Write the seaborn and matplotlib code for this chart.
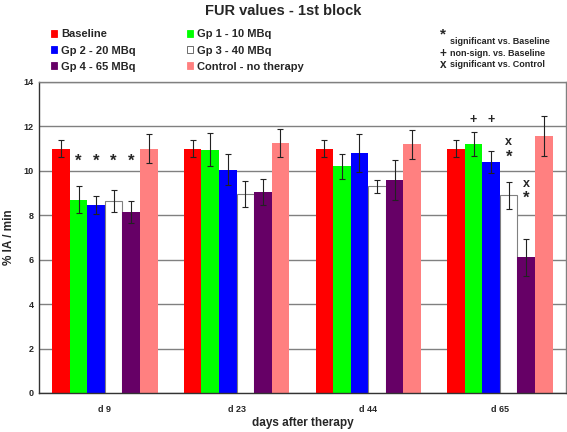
"""FUR values per treatment group, first block."""

import pandas as pd
import numpy as np
import matplotlib
matplotlib.use("Agg")
import matplotlib.pyplot as plt
import seaborn as sns

days = ["d 9", "d 23", "d 44", "d 65"]
groups = ["Baseline", "Gp 1 - 10 MBq", "Gp 2 - 20 MBq", "Gp 3 - 40 MBq",
          "Gp 4 - 65 MBq", "Control - no therapy"]
colors = ["#ff0000", "#00ff00", "#0000ff", "#ffffff", "#660066", "#ff8080"]

# mean FUR per group, one list per day
fur_d9 = [11.0, 8.7, 8.45, 8.65, 8.15, 11.0]
fur_d23 = [11.0, 10.95, 10.05, 8.95, 9.05, 11.25]
fur_d44 = [11.0, 10.2, 10.8, 9.3, 9.6, 11.2]
fur_d65 = [11.0, 11.2, 10.4, 8.9, 6.1, 11.55]

# error bar half-widths
err_d9 = [0.4, 0.6, 0.4, 0.5, 0.5, 0.65]
err_d23 = [0.4, 0.75, 0.7, 0.6, 0.6, 0.65]
err_d44 = [0.4, 0.55, 0.85, 0.3, 0.9, 0.65]
err_d65 = [0.4, 0.55, 0.5, 0.6, 0.85, 0.9]

# significance marks: (day, group, symbol, y)
marks = [
    ("d 9", "Gp 1 - 10 MBq", "*", 10.45),
    ("d 9", "Gp 2 - 20 MBq", "*", 10.45),
    ("d 9", "Gp 3 - 40 MBq", "*", 10.45),
    ("d 9", "Gp 4 - 65 MBq", "*", 10.45),
    ("d 65", "Gp 1 - 10 MBq", "+", 12.3),
    ("d 65", "Gp 2 - 20 MBq", "+", 12.3),
    ("d 65", "Gp 3 - 40 MBq", "x", 11.3),
    ("d 65", "Gp 3 - 40 MBq", "*", 10.6),
    ("d 65", "Gp 4 - 65 MBq", "x", 9.4),
    ("d 65", "Gp 4 - 65 MBq", "*", 8.75),
]

values = [fur_d9, fur_d23, fur_d44, fur_d65]
errors = [err_d9, err_d23, err_d44, err_d65]
rows = []
for d, vals, errs in zip(days, values, errors):
    for g, v, e in zip(groups, vals, errs):
        rows.append({"day": d, "group": g, "fur": v, "err": e})
df = pd.DataFrame(rows)

sns.set_style("white")
plt.rcParams["font.family"] = ["Liberation Sans", "DejaVu Sans"]
plt.rcParams["font.weight"] = "bold"

fig = plt.figure(figsize=(5.67, 4.32), dpi=100)
ax = fig.add_axes([0.0688, 0.0903, 0.929, 0.72])

sns.barplot(data=df, x="day", y="fur", hue="group", order=days, hue_order=groups,
            palette=colors, errorbar=None, width=0.8, linewidth=0,
            saturation=1, ax=ax, legend=False)
bar_sets = list(ax.containers)

# error bars drawn at the bar centres
for gi, cont in enumerate(bar_sets):
    for di, bar in enumerate(cont):
        cx = bar.get_x() + bar.get_width() / 2
        ax.errorbar(cx, bar.get_height(), yerr=errors[di][gi], color="#222222",
                    lw=0.8, capsize=2, capthick=0.8, zorder=4)
        if colors[gi] == "#ffffff":
            bar.set_edgecolor("#808080")
            bar.set_linewidth(0.8)

for d, g, sym, y in marks:
    bar = bar_sets[groups.index(g)][days.index(d)]
    cx = bar.get_x() + bar.get_width() / 2
    if sym == "*":
        ax.text(cx, y, "*", ha="center", va="center", fontsize=12)
    else:
        ax.text(cx, y, sym, ha="center", va="center", fontsize=9)

ax.set_ylim(0, 14)
ax.set_yticks(np.arange(0, 15, 2))
ax.set_xlim(-0.5, 3.5)
ax.yaxis.grid(True, color="#808080", lw=1)
ax.set_axisbelow(True)
ax.set_ylabel("% IA / min", fontsize=8.5, fontweight="bold", labelpad=6)
ax.set_xlabel("days after therapy", fontsize=8.5, fontweight="bold", labelpad=2)
ax.tick_params(axis="both", labelsize=6.5, length=0, pad=4)
ax.tick_params(axis="x", pad=9)
ax.set_xticks(np.arange(-0.5, 4, 1), minor=True)
ax.tick_params(axis="x", which="minor", length=4, color="#333333", direction="out")
for s in ["top", "right"]:
    ax.spines[s].set_color("#808080")
for s in ["left", "bottom"]:
    ax.spines[s].set_color("#333333")
for s in ax.spines.values():
    s.set_linewidth(1)

fig.suptitle("FUR values - 1st block", fontsize=10.5, fontweight="bold", y=0.99)

handles = [plt.Rectangle((0, 0), 1, 1, facecolor=c,
                         edgecolor="#555555" if c == "#ffffff" else c, lw=0.6)
           for c in colors]
order = [0, 2, 4, 1, 3, 5]
fig.legend([handles[i] for i in order], [groups[i] for i in order],
           ncol=2, loc="upper left", bbox_to_anchor=(0.072, 0.955),
           frameon=False, handlelength=0.6, handleheight=0.6,
           handletextpad=0.3, columnspacing=4.6, labelspacing=0.55,
           prop={"weight": "bold", "size": 8})

fig.text(0.776, 0.92, "*", fontsize=11, ha="left", va="center")
fig.text(0.794, 0.903, "significant vs. Baseline", fontsize=6.5, va="center")
fig.text(0.776, 0.876, "+", fontsize=8.5, va="center")
fig.text(0.794, 0.876, "non-sign. vs. Baseline", fontsize=6.5, va="center")
fig.text(0.776, 0.85, "x", fontsize=8.5, va="center")
fig.text(0.794, 0.85, "significant vs. Control", fontsize=6.5, va="center")

fig.savefig("out.png", dpi=100)
